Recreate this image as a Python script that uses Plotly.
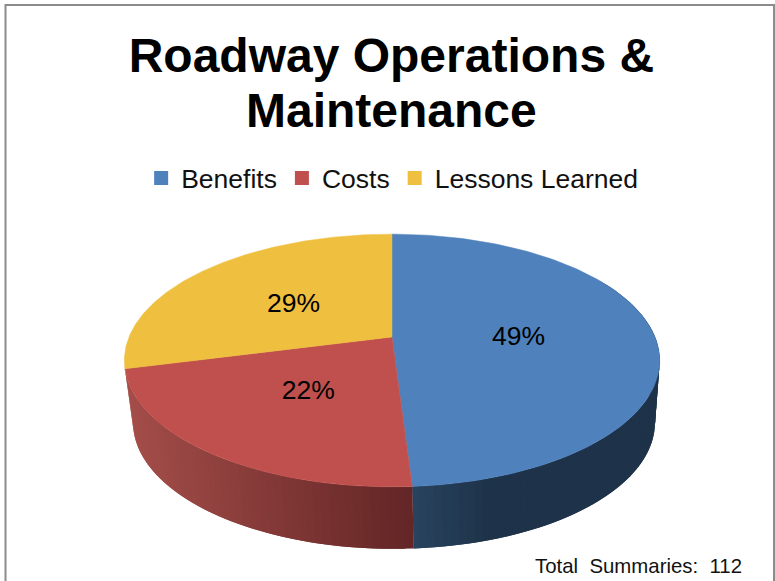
import numpy as np
import plotly.graph_objects as go

categories = ["Benefits", "Costs", "Lessons Learned"]
values = [49, 22, 29]
colors = ["#4F81BD", "#C0504D", "#EFBF3F"]
title_line_1 = "Roadway Operations &"
title_line_2 = "Maintenance"
note_text = "Total\u00a0 Summaries:\u00a0 112"

# projection of the pie disc
CX, CY, A, B, K = 392, 337, 263, 122, 0.186
DEPTH, SHRINK = 62, 0.975


def project(t, r=1.0, bottom=False):
    u, v = r * np.sin(t), r * np.cos(t)
    w = 1 + K * v
    x, y = A * u / w, B * v / w
    if bottom:
        return CX + SHRINK * x + 2, CY - y + DEPTH
    return CX + x, CY - y


def mix(c1, c2, f):
    f = min(max(f, 0), 1)
    return "rgb(%d,%d,%d)" % tuple(round(a + (b - a) * f) for a, b in zip(c1, c2))


def wall_color(i, x):
    if i == 0:
        return mix((42, 70, 99), (30, 51, 73), (x - 410) / 90)
    return mix((165, 78, 74), (100, 38, 38), (x - 127) / 283)


fractions = np.array(values) / sum(values)
edges = np.concatenate([[0], np.cumsum(fractions)]) * 2 * np.pi

fig = go.Figure()

# side wall: only the two front slices show one; each strip overlaps the next
STEP = np.radians(1.5)
for i in range(2):
    lo, hi = max(edges[i], np.radians(60)), edges[i + 1]
    ts = np.arange(lo, hi, STEP)
    if i == 0:
        ts = ts[::-1]  # blue paints toward the front, ending at the red edge
    for a in ts:
        b = min(a + 2 * STEP, hi)
        tt = np.array([a, b])
        xt, yt = project(tt)
        xb, yb = project(tt, bottom=True)
        col = wall_color(i, (xt[0] + xb[0]) / 2)
        fig.add_trace(go.Scatter(
            x=[xt[0], xt[1], xb[1], xb[0], xt[0]],
            y=[yt[0], yt[1], yb[1], yb[0], yt[0]],
            mode="lines", fill="toself", fillcolor=col,
            line=dict(width=0), showlegend=False, hoverinfo="skip"))

# top slices
for i, name in enumerate(categories):
    ts = np.linspace(edges[i], edges[i + 1], 160)
    xs, ys = project(ts)
    fig.add_trace(go.Scatter(
        x=np.r_[CX, xs, CX], y=np.r_[CY, ys, CY],
        mode="lines", fill="toself", fillcolor=colors[i],
        line=dict(color=colors[i], width=0.5), showlegend=False, name=name,
        hoverinfo="name"))

# legend entries
for i, name in enumerate(categories):
    fig.add_trace(go.Scatter(
        x=[None], y=[None], mode="markers", name=name,
        marker=dict(symbol="square", size=14, color=colors[i])))

# percentage labels
mids = (edges[:-1] + edges[1:]) / 2
lx, ly = project(mids, r=0.49)
fig.add_trace(go.Scatter(
    x=lx - 2, y=ly + 3, mode="text", text=[f"{v}%" for v in values],
    textposition="middle center",
    textfont=dict(family="Liberation Sans", size=26.5, color="#000000"),
    showlegend=False, hoverinfo="skip"))

title_font = dict(family="Liberation Sans", size=48, color="#000000", weight="bold")
fig.update_layout(
    width=775, height=581, margin=dict(l=0, r=0, t=0, b=0),
    paper_bgcolor="white", plot_bgcolor="white",
    font=dict(family="Liberation Sans", color="#000000"),
    title=dict(text=title_line_1, x=0.505, xanchor="center", y=0.905, yanchor="middle",
               font=title_font),
    xaxis=dict(range=[0, 775], visible=False, fixedrange=True),
    yaxis=dict(range=[581, 0], visible=False, fixedrange=True),
    legend=dict(orientation="h", x=0.506, xanchor="center", y=0.693, yanchor="middle",
                font=dict(family="Liberation Sans", size=26.5, color="#111111"),
                itemsizing="trace", itemwidth=30, bgcolor="rgba(0,0,0,0)"),
    annotations=[
        dict(text=title_line_2, x=391, y=110, xref="x", yref="y", xanchor="center",
             yanchor="middle", showarrow=False, font=title_font),
        dict(text=note_text, x=744, y=566, xref="x", yref="y", xanchor="right",
             yanchor="middle", showarrow=False,
             font=dict(family="Liberation Sans", size=20.4, color="#111111")),
    ],
    shapes=[dict(type="rect", x0=5.5, y0=5, x1=774, y1=590, xref="x", yref="y",
                 line=dict(color="#8C8C8C", width=2), layer="above")],
)

fig.write_html("out.html", config={"displayModeBar": False},
               post_script="document.body.style.margin='0';document.documentElement.style.overflow='hidden';")
